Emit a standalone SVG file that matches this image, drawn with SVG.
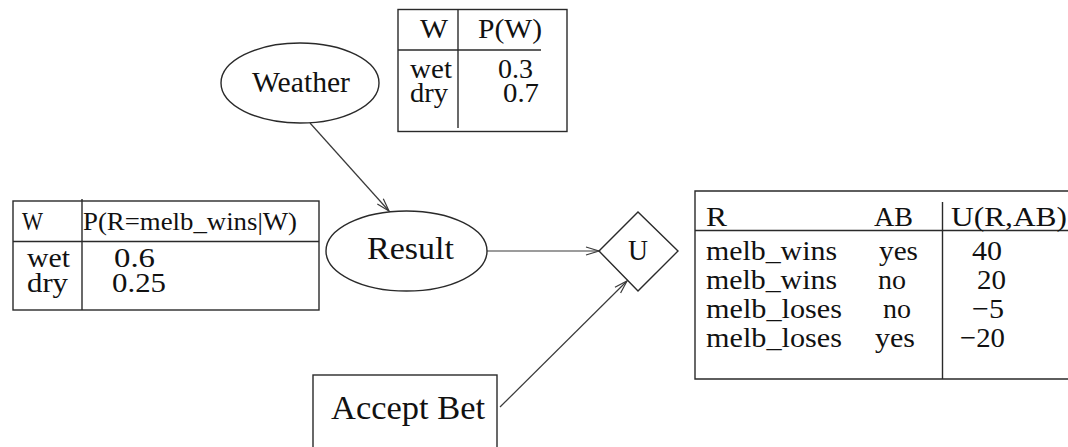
<svg xmlns="http://www.w3.org/2000/svg" width="1068" height="447" viewBox="0 0 1068 447" font-family="'Liberation Serif', 'Times New Roman', Times, serif">
  <style>
    .shape { fill: none; stroke: #2a2a2a; stroke-width: 1.4; }
    .rule { stroke: #2a2a2a; stroke-width: 1.4; }
    .edge { fill: none; stroke: #3a3a3a; stroke-width: 1.2; }
    text { fill: #111; }
    .tbl { font-size: 27px; }
    .tbl-u { font-size: 28px; }
  </style>
  <defs>
    <marker id="arrow" markerUnits="userSpaceOnUse" markerWidth="16" markerHeight="12" refX="14" refY="5" orient="auto">
      <path d="M1,1 L14,5 L1,9" fill="none" stroke="#3a3a3a" stroke-width="1.2"/>
    </marker>
  </defs>

  <rect width="1068" height="447" fill="#fff"/>

  <!-- connectors -->
  <g id="connectors">
    <line class="edge" x1="310" y1="123" x2="389" y2="211" marker-end="url(#arrow)"/>
    <line class="edge" x1="487" y1="251" x2="599" y2="251" marker-end="url(#arrow)"/>
    <line class="edge" x1="500" y1="407" x2="627" y2="281" marker-end="url(#arrow)"/>
  </g>

  <!-- chance node: Weather -->
  <g id="weather">
    <ellipse class="shape" cx="300" cy="83" rx="79" ry="40"/>
    <text x="252" y="92" font-size="29" textLength="98" lengthAdjust="spacingAndGlyphs">Weather</text>
  </g>

  <!-- chance node: Result -->
  <g id="result">
    <ellipse class="shape" cx="406.5" cy="251" rx="80.5" ry="40"/>
    <text x="367" y="259" font-size="32" textLength="87" lengthAdjust="spacingAndGlyphs">Result</text>
  </g>

  <!-- utility node: U -->
  <g id="utility">
    <polygon class="shape" points="599,251 638,212 678,251 638,291"/>
    <text x="628" y="260" font-size="29" textLength="20" lengthAdjust="spacingAndGlyphs">U</text>
  </g>

  <!-- decision node: Accept Bet -->
  <g id="accept-bet">
    <rect class="shape" x="313" y="375" width="184" height="80"/>
    <text x="331" y="419" font-size="34" textLength="154" lengthAdjust="spacingAndGlyphs">Accept Bet</text>
  </g>

  <!-- table P(W) -->
  <g id="table-weather" class="tbl">
    <rect class="shape" x="398" y="9.5" width="169" height="122"/>
    <line class="rule" x1="398" y1="50" x2="541" y2="50"/>
    <line class="rule" x1="458" y1="9.5" x2="458" y2="128"/>
    <text x="420" y="38" textLength="28" lengthAdjust="spacingAndGlyphs">W</text>
    <text x="478" y="38" textLength="64" lengthAdjust="spacingAndGlyphs">P(W)</text>
    <text x="410" y="78" textLength="42" lengthAdjust="spacingAndGlyphs">wet</text>
    <text x="410" y="102" textLength="38" lengthAdjust="spacingAndGlyphs">dry</text>
    <text x="498" y="78" textLength="35" lengthAdjust="spacingAndGlyphs">0.3</text>
    <text x="503" y="102" textLength="36" lengthAdjust="spacingAndGlyphs">0.7</text>
  </g>

  <!-- table P(R=melb_wins|W) -->
  <g id="table-result" class="tbl">
    <rect class="shape" x="13" y="201" width="306" height="109"/>
    <line class="rule" x1="13" y1="241.5" x2="319" y2="241.5"/>
    <line class="rule" x1="82" y1="199" x2="82" y2="310"/>
    <text x="22" y="230" font-size="25" textLength="21" lengthAdjust="spacingAndGlyphs">W</text>
    <text x="83" y="230" font-size="25" textLength="214" lengthAdjust="spacingAndGlyphs">P(R=melb_wins|W)</text>
    <text x="27" y="267" textLength="43" lengthAdjust="spacingAndGlyphs">wet</text>
    <text x="27" y="292" textLength="41" lengthAdjust="spacingAndGlyphs">dry</text>
    <text x="114" y="267" textLength="41" lengthAdjust="spacingAndGlyphs">0.6</text>
    <text x="112" y="292" textLength="54" lengthAdjust="spacingAndGlyphs">0.25</text>
  </g>

  <!-- table U(R,AB) -->
  <g id="table-utility" class="tbl-u">
    <path class="shape" d="M1068,191 H695 V379 H1068"/>
    <line class="rule" x1="695" y1="230.5" x2="1068" y2="230.5"/>
    <line class="rule" x1="942.5" y1="202" x2="942.5" y2="379"/>
    <text x="706" y="226" textLength="21" lengthAdjust="spacingAndGlyphs">R</text>
    <text x="874" y="226" textLength="39" lengthAdjust="spacingAndGlyphs">AB</text>
    <text x="951" y="226" textLength="116" lengthAdjust="spacingAndGlyphs">U(R,AB)</text>
    <text x="706" y="260" textLength="131" lengthAdjust="spacingAndGlyphs">melb_wins</text>
    <text x="706" y="289" textLength="131" lengthAdjust="spacingAndGlyphs">melb_wins</text>
    <text x="706" y="318" textLength="136" lengthAdjust="spacingAndGlyphs">melb_loses</text>
    <text x="706" y="347" textLength="136" lengthAdjust="spacingAndGlyphs">melb_loses</text>
    <text x="879" y="260" textLength="39" lengthAdjust="spacingAndGlyphs">yes</text>
    <text x="878" y="289" textLength="28" lengthAdjust="spacingAndGlyphs">no</text>
    <text x="883" y="318" textLength="28" lengthAdjust="spacingAndGlyphs">no</text>
    <text x="875" y="347" textLength="40" lengthAdjust="spacingAndGlyphs">yes</text>
    <text x="972" y="260" textLength="30" lengthAdjust="spacingAndGlyphs">40</text>
    <text x="977" y="289" textLength="29" lengthAdjust="spacingAndGlyphs">20</text>
    <text x="972" y="318" textLength="32" lengthAdjust="spacingAndGlyphs">−5</text>
    <text x="960" y="347" textLength="45" lengthAdjust="spacingAndGlyphs">−20</text>
  </g>
</svg>
